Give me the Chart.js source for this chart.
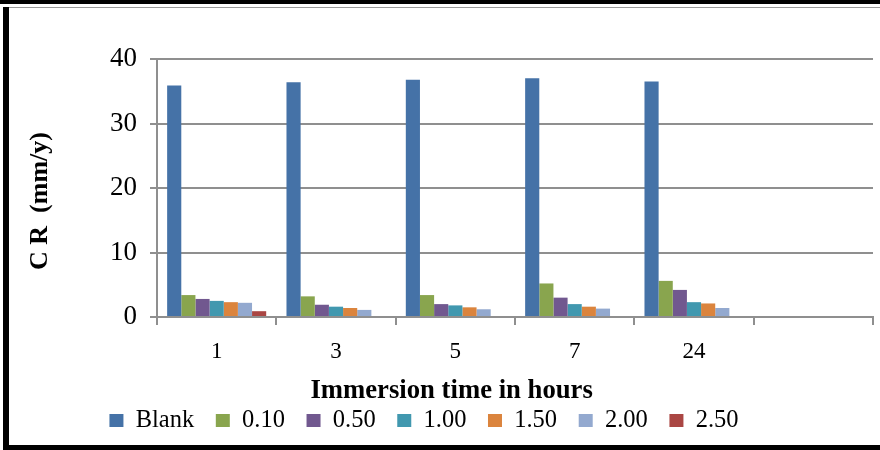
<!DOCTYPE html>
<html>
<head>
<meta charset="utf-8">
<script src="https://cdn.jsdelivr.net/npm/chart.js@4"></script>
<style>
  body { margin: 0; width: 880px; height: 450px; overflow: hidden; background: #fff; position: relative; }
  #wrap { position: absolute; left: -25px; top: 0; width: 905px; height: 450px; }
  .edge { position: absolute; background: #000; }
</style>
</head>
<body>
<div id="wrap"><canvas id="crChart" width="905" height="450"></canvas></div>
<div class="edge" style="left:0;top:0;width:880px;height:4px"></div>
<div style="position:absolute;left:3px;top:7px;width:877px;height:1px;background:#999"></div>
<div class="edge" style="left:3px;top:7px;width:6px;height:443px"></div>
<div class="edge" style="left:3px;top:445px;width:877px;height:5px"></div>
<script>
// immersion time (hours); last category is empty in the original
const hours = ["1", "3", "5", "7", "24", ""];
const seriesNames = ["Blank", "0.10", "0.50", "1.00", "1.50", "2.00", "2.50"];
const blank = [35.9, 36.4, 36.8, 37.0, 36.5, null];
const c010 = [3.4, 3.2, 3.4, 5.2, 5.6, null];
const c050 = [2.8, 1.9, 2.0, 3.0, 4.2, null];
const c100 = [2.5, 1.6, 1.8, 2.0, 2.3, null];
const c150 = [2.3, 1.4, 1.5, 1.6, 2.1, null];
const c200 = [2.2, 1.1, 1.2, 1.3, 1.4, null];
const c250 = [0.9, null, null, null, null, null];
const colors = ["#4572A7", "#89A54E", "#71588F", "#4198AF", "#DB843D", "#93A9CF", "#AA4643"];

const values = [blank, c010, c050, c100, c150, c200, c250];
const serif = "'Liberation Serif', 'Times New Roman', serif";
const gridGray = "#8f8f8f";

const datasets = values.map((v, i) => ({
  label: seriesNames[i],
  data: v,
  backgroundColor: colors[i],
  borderWidth: 0,
  categoryPercentage: 0.83,
  barPercentage: 1
}));

new Chart(document.getElementById("crChart").getContext("2d"), {
  type: "bar",
  data: { labels: hours, datasets: datasets },
  options: {
    responsive: false,
    animation: false,
    devicePixelRatio: 1,
    layout: { padding: { top: 59, right: 7, bottom: 7.3, left: 0 } },
    plugins: {
      tooltip: { enabled: false },
      legend: {
        position: "bottom",
        labels: {
          boxWidth: 14,
          boxHeight: 13,
          padding: 21.6,
          color: "#000",
          font: { family: serif, size: 24.5 }
        }
      }
    },
    scales: {
      x: {
        grid: { drawOnChartArea: false, color: gridGray, lineWidth: 2, tickLength: 8 },
        border: { color: gridGray, width: 2 },
        ticks: { color: "#000", padding: 13, font: { family: serif, size: 23 } },
        title: {
          display: true,
          text: "Immersion time in hours                   ",
          color: "#000",
          font: { family: serif, size: 26.7, weight: "bold" },
          padding: { top: 0, bottom: -20.4 }
        },
        afterFit: s => { s.height = 69.6; }
      },
      y: {
        min: 0,
        max: 40,
        ticks: { stepSize: 10, color: "#000", padding: 13, font: { family: serif, size: 27 } },
        grid: { color: gridGray, lineWidth: 2, tickLength: 7 },
        border: { color: gridGray, width: 2 },
        title: {
          display: true,
          text: "C R  (mm/y)    ",
          color: "#000",
          font: { family: serif, size: 26, weight: "bold" },
          padding: { top: 50, bottom: 0 }
        },
        afterFit: s => { s.width = 182; }
      }
    }
  }
});
</script>
</body>
</html>
